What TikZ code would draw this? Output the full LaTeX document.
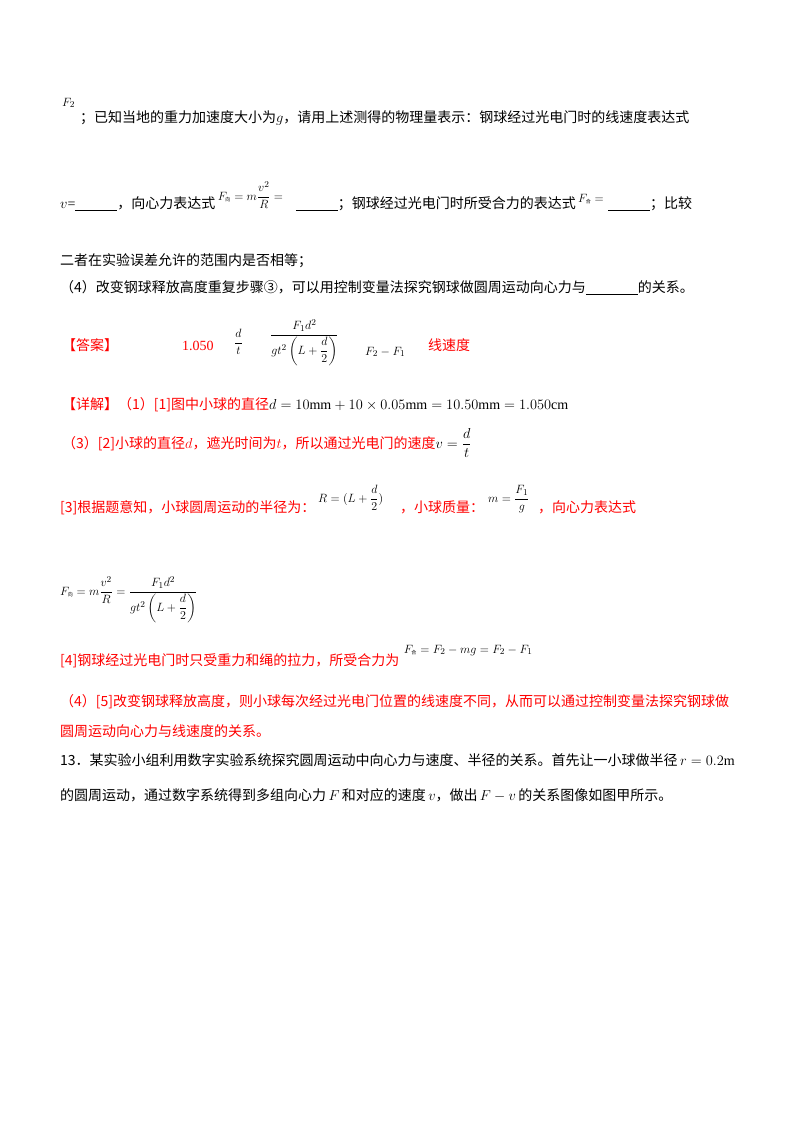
\documentclass[tikz,border=0pt]{standalone}
\usepackage{amsmath}
\usepackage{fontspec}
\setmainfont{Liberation Serif}
\newfontfamily\cjk{Noto Sans CJK SC}
\usetikzlibrary{calc}
\begin{document}
\begin{tikzpicture}[x=1pt,y=-1pt,
  t/.style={anchor=base west,inner sep=0pt,font=\fontsize{14}{16}\selectfont},
  r/.style={t,text=red},
  m/.style={anchor=base west,inner sep=0pt,font=\fontsize{13}{15}\selectfont}]
\useasboundingbox (0,0) rectangle (800,1132);
\newcommand\bl{\underline{\hspace{42pt}}}
\node[m] (a0) at (62,106) {$F_2$};
\node[t] (a1) at (80,122) {{\cjk ；已知当地的重力加速度大小为}$g${\cjk ，请用上述测得的物理量表示：钢球经过光电门时的线速度表达式}};
\node[t] (b1) at (60,208) {$v$=\bl{\cjk ，向心力表达式}};
\node[m] (b2) at ($(b1.base east)+(2,-8)$) {$F_{\text{\cjk\tiny 向}}=m\dfrac{v^2}{R}=$};
\node[t] (b3) at ($(b1.base east)+(80,0)$) {\bl{\cjk ；钢球经过光电门时所受合力的表达式}};
\node[m] (b4) at ($(b3.base east)+(2,-6)$) {$F_{\text{\cjk\tiny 合}}=$};
\node[t] (b5) at ($(b4.base east)+(4,6)$) {\bl{\cjk ；比较}};
\node[t] (c1) at (60,265) {\cjk 二者在实验误差允许的范围内是否相等；};
\node[t] (c2) at (60,292) {{\cjk （4）改变钢球释放高度重复步骤③，可以用控制变量法探究钢球做圆周运动向心力与}\underline{\hspace{52pt}}{\cjk 的关系。}};
\node[r] (d1) at (62,350) {\cjk 【答案】};
\node[r] (d2) at (182,350) {1.050};
\node[m] (d3) at (234,346) {$\dfrac{d}{t}$};
\node[m] (d4) at (270,338) {$\dfrac{F_1d^2}{gt^2\left(L+\dfrac{d}{2}\right)}$};
\node[m] (d5) at (365,355) {$F_2-F_1$};
\node[r] (d6) at (428,350) {\cjk 线速度};
\node[r] (e1) at (62,409) {{\cjk 【详解】（1）[1]图中小球的直径}{\color{black}$d=10\mathrm{mm}+10\times0.05\mathrm{mm}=10.50\mathrm{mm}=1.050\mathrm{cm}$}};
\node[r] (f1) at (62,448) {{\cjk （3）[2]小球的直径}$d${\cjk ，遮光时间为}$t${\cjk ，所以通过光电门的速度}{\color{black}$v=\dfrac{d}{t}$}};
\node[r] (g1) at (60,512) {\cjk [3]根据题意知，小球圆周运动的半径为：};
\node[m] (g2) at (318,502) {$R=(L+\dfrac{d}{2})$};
\node[r] (g4) at (400,512) {\cjk ，小球质量：};
\node[m] (g5) at (488,502) {$m=\dfrac{F_1}{g}$};
\node[r] (g6) at (538,512) {\cjk ，向心力表达式};
\node[m] (h1) at (60,595) {$F_{\text{\cjk\tiny 向}}=m\dfrac{v^2}{R}=\dfrac{F_1d^2}{gt^2\left(L+\dfrac{d}{2}\right)}$};
\node[r] (i1) at (60,665) {\cjk [4]钢球经过光电门时只受重力和绳的拉力，所受合力为};
\node[m] (i2) at ($(i1.base east)+(4,-12)$) {$F_{\text{\cjk\tiny 合}}=F_2-mg=F_2-F_1$};
\node[r] (j1) at (60,706) {\cjk （4）[5]改变钢球释放高度，则小球每次经过光电门位置的线速度不同，从而可以通过控制变量法探究钢球做};
\node[r] (j2) at (60,736) {\cjk 圆周运动向心力与线速度的关系。};
\node[t] (k1) at (60,765) {{\cjk 13．某实验小组利用数字实验系统探究圆周运动中向心力与速度、半径的关系。首先让一小球做半径}\,$r=0.2\mathrm{m}$};
\node[t] (k2) at (60,800) {{\cjk 的圆周运动，通过数字系统得到多组向心力}\,$F$\,{\cjk 和对应的速度}\,$v${\cjk ，做出}\,$F-v$\,{\cjk 的关系图像如图甲所示。}};
\end{tikzpicture}
\end{document}
